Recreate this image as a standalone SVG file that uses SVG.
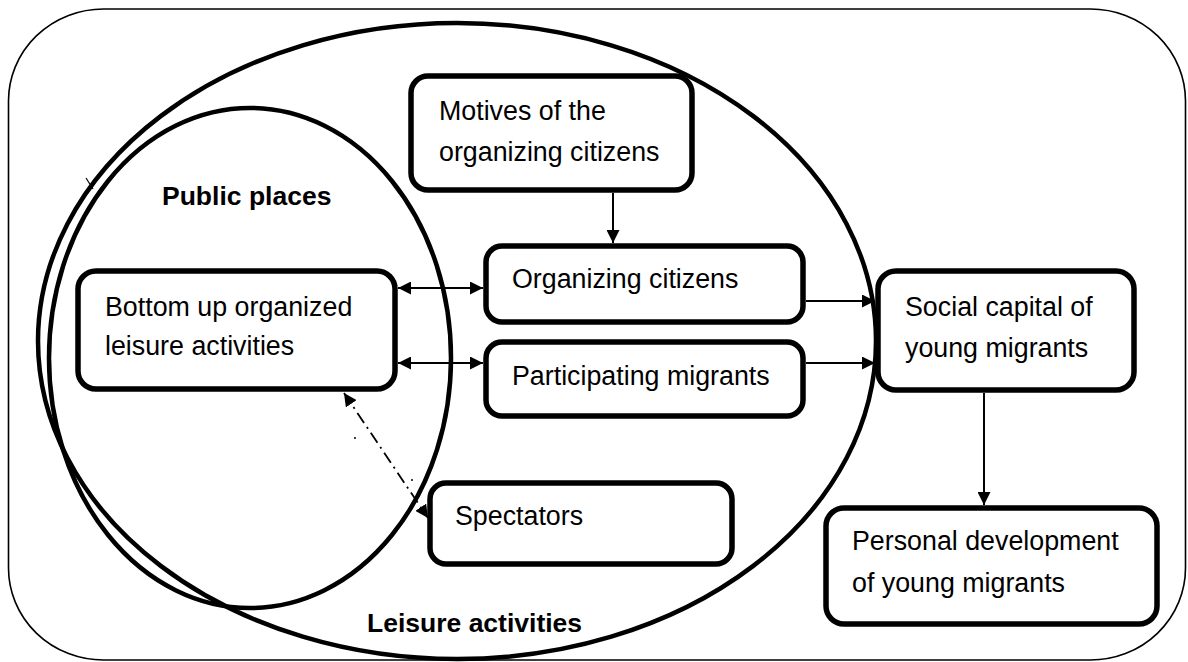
<svg xmlns="http://www.w3.org/2000/svg" width="1188" height="662" viewBox="0 0 1188 662">
  <style>
    .frame { fill: none; stroke: #000; stroke-width: 1.6; }
    .ell { fill: none; stroke: #000; stroke-width: 4.5; }
    .box { fill: #fff; stroke: #000; stroke-width: 5.5; }
    .txt { font-family: "Liberation Sans", Arial, sans-serif; font-size: 26.8px; fill: #000; }
    .lbl { font-family: "Liberation Sans", Arial, sans-serif; font-size: 26.5px; font-weight: bold; fill: #000; }
    .con { fill: none; stroke: #000; stroke-width: 2; }
    .dd { stroke-dasharray: 12 5 2 5; stroke-width: 1.8; }
  </style>
  <defs>
    <marker id="ah" viewBox="0 0 13 13" refX="13" refY="6.5" markerWidth="13" markerHeight="13" markerUnits="userSpaceOnUse" orient="auto-start-reverse">
      <path d="M0,0 L13,6.5 L0,13 z" fill="#000"/>
    </marker>
  </defs>

  <g id="frame">
    <rect class="frame" x="8.5" y="9" width="1177" height="651" rx="95" ry="92"/>
  </g>

  <g id="leisure-activities">
    <ellipse class="ell" cx="457" cy="341" rx="419" ry="318"/>
    <text class="lbl" x="367" y="632">Leisure activities</text>
  </g>

  <g id="public-places">
    <ellipse class="ell" cx="250" cy="358" rx="201" ry="250" stroke-width="4"/>
    <text class="lbl" x="162" y="205">Public places</text>
    <line x1="86" y1="178" x2="93" y2="189" stroke="#000" stroke-width="1.2"/>
  </g>

  <g id="connectors">
    <line class="con" x1="613" y1="193" x2="613" y2="243" marker-end="url(#ah)"/>
    <line class="con" x1="398" y1="288" x2="483" y2="288" marker-start="url(#ah)" marker-end="url(#ah)"/>
    <line class="con" x1="398" y1="363" x2="483" y2="363" marker-start="url(#ah)" marker-end="url(#ah)"/>
    <line class="con" x1="806" y1="301" x2="875" y2="301" marker-end="url(#ah)"/>
    <line class="con" x1="806" y1="363" x2="875" y2="363" marker-end="url(#ah)"/>
    <line class="con" x1="984" y1="393" x2="984" y2="505" marker-end="url(#ah)"/>
    <line class="con dd" x1="344" y1="393" x2="428" y2="518" marker-start="url(#ah)" marker-end="url(#ah)"/>
    <circle cx="355" cy="438" r="1" fill="#000"/>
    <circle cx="412" cy="480" r="1" fill="#000"/>
  </g>

  <g id="motives">
    <rect class="box" x="411" y="76" width="281" height="114" rx="17"/>
    <text class="txt" x="439" y="120">Motives of the</text>
    <text class="txt" x="439" y="161">organizing citizens</text>
  </g>

  <g id="bottom-up">
    <rect class="box" x="78" y="271" width="317" height="118" rx="18"/>
    <text class="txt" x="105" y="316">Bottom up organized</text>
    <text class="txt" x="105" y="355">leisure activities</text>
  </g>

  <g id="organizing-citizens">
    <rect class="box" x="486" y="246" width="317" height="76" rx="16"/>
    <text class="txt" x="512" y="288">Organizing citizens</text>
  </g>

  <g id="participating-migrants">
    <rect class="box" x="486" y="342" width="317" height="74" rx="16"/>
    <text class="txt" x="512" y="385">Participating migrants</text>
  </g>

  <g id="spectators">
    <rect class="box" x="430" y="483" width="302" height="81" rx="16"/>
    <text class="txt" x="455" y="525">Spectators</text>
  </g>

  <g id="social-capital">
    <rect class="box" x="878" y="271" width="256" height="119" rx="18"/>
    <text class="txt" x="905" y="316">Social capital of</text>
    <text class="txt" x="905" y="357">young migrants</text>
  </g>

  <g id="personal-development">
    <rect class="box" x="826" y="508" width="331" height="116" rx="18"/>
    <text class="txt" x="852" y="550">Personal development</text>
    <text class="txt" x="852" y="592">of young migrants</text>
  </g>
</svg>
